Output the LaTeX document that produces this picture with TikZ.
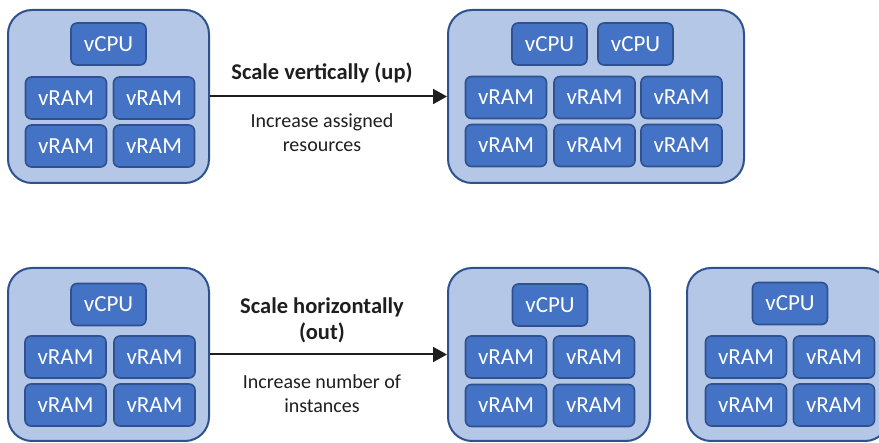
\documentclass[tikz,border=0pt]{standalone}
\usepackage{fontspec}
\setmainfont{Carlito}
\usetikzlibrary{arrows.meta,positioning}
\definecolor{vmfill}{HTML}{B4C7E7}
\definecolor{vmline}{HTML}{2F528F}
\definecolor{unitfill}{HTML}{4472C4}
\definecolor{labeltext}{HTML}{1E1E1E}

\begin{document}
\begin{tikzpicture}[x=1pt,y=-1pt,>={Triangle[length=14pt,width=15pt]},
      vm/.style={draw=vmline,line width=2pt,fill=vmfill,rounded corners=24pt,
        minimum height=173pt,inner sep=0pt},
      unit/.style={draw=vmline,line width=1.6pt,fill=unitfill,rounded corners=6pt,
        minimum height=42pt,inner sep=0pt,text=white,font=\fontsize{23}{24}\selectfont},
      cpu/.style={unit,minimum width=75pt},
      ram/.style={unit,minimum width=81pt},
      note/.style={align=center,text=labeltext,font=\fontsize{20}{24}\selectfont}]
    \clip (0,0) rectangle (879,443);
    % virtual machines
    \node[vm,minimum width=201pt] (small) at (108.5,96.5) {};
    \node[vm,minimum width=296pt] (big) at (596,96.5) {};
    \node[vm,minimum width=201pt] (orig) at (108.5,354.5) {};
    \node[vm,minimum width=202pt] (copyA) at (549,354.5) {};
    \node[vm,minimum width=202pt] (copyB) at (788,354.5) {};
    % vertical scaling
    \node[cpu] (small-cpu) at (108.5,44) {vCPU};
    \foreach \c/\x in {1/66,2/154}
      \foreach \r/\y in {1/98,2/146}
        \node[ram] (small-ram\c\r) at (\x,\y) {vRAM};
    \node[cpu] (big-cpu1) at (549.5,44) {vCPU};
    \node[cpu] (big-cpu2) at (635.5,44) {vCPU};
    \foreach \c/\x in {1/506,2/594.5,3/681.5}
      \foreach \r/\y in {1/97.5,2/145.5}
        \node[ram] (big-ram\c\r) at (\x,\y) {vRAM};
    % horizontal scaling
    \node[cpu] (orig-cpu) at (108.5,304.5) {vCPU};
    \foreach \c/\x in {1/65.5,2/154.5}
      \foreach \r/\y in {1/357,2/405}
        \node[ram] (orig-ram\c\r) at (\x,\y) {vRAM};
    \node[cpu] (copyA-cpu) at (550,305) {vCPU};
    \foreach \c/\x in {1/506,2/594}
      \foreach \r/\y in {1/357,2/405.5}
        \node[ram] (copyA-ram\c\r) at (\x,\y) {vRAM};
    \node[cpu] (copyB-cpu) at (790,303.5) {vCPU};
    \foreach \c/\x in {1/746,2/834}
      \foreach \r/\y in {1/357,2/405}
        \node[ram] (copyB-ram\c\r) at (\x,\y) {vRAM};
    % arrows and labels
    \draw[->,line width=2pt,labeltext] (small.east) -- (big.west);
    \draw[->,line width=2pt,labeltext] (orig.east) -- (copyA.west);
    \node[note,font=\fontsize{22.5}{24}\selectfont\bfseries] (uplabel) at (322,73) {Scale vertically (up)};
    \node[note] (upnote) at (322,133) {Increase assigned\\resources};
    \node[note,font=\fontsize{22.5}{26}\selectfont\bfseries] (outlabel) at (322,320) {Scale horizontally\\(out)};
    \node[note] (outnote) at (322,394) {Increase number of\\instances};
\end{tikzpicture}
\end{document}
